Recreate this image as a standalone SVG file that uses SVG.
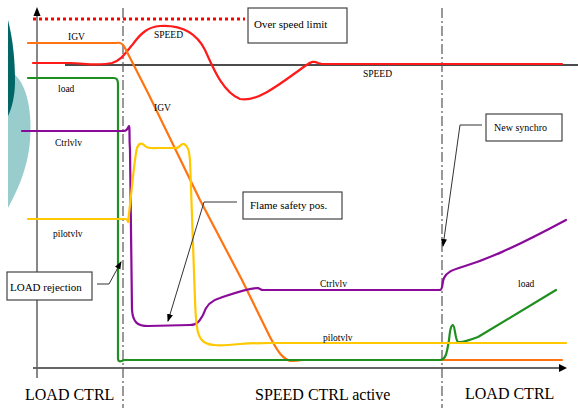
<svg xmlns="http://www.w3.org/2000/svg" width="578" height="408" viewBox="0 0 578 408">
<style>
.t{font-family:"Liberation Serif","Times New Roman",serif;fill:#000}
.s{font-size:9.5px}
.b{font-size:16px}
.c{fill:none;stroke-width:2.2;stroke-linejoin:round;stroke-linecap:round}
.box{fill:#fff;stroke:#444;stroke-width:1.2}
.ld{fill:none;stroke:#333;stroke-width:1}
.dd{stroke:#555;stroke-width:1.2;stroke-dasharray:10 3 2 3;fill:none}
</style>
<defs>
<marker id="ah" markerWidth="8" markerHeight="8" refX="7" refY="4" orient="auto" markerUnits="userSpaceOnUse">
<path d="M0,1 L8,4 L0,7 Z" fill="#000"/>
</marker>
</defs>
<rect width="578" height="408" fill="#fff"/>
<g id="decor">
<path d="M8,70 C30,80 32,120 30,140 C28,170 15,195 8,208 Z" fill="#99cccc"/>
<path d="M8,20 C13,40 15,60 15,82 C15,95 12,108 8,116 Z" fill="#006666"/>
</g>
<g id="axes">
<line x1="37" y1="14" x2="37" y2="378" stroke="#111" stroke-width="1"/>
<path d="M33.5,16 L37,7 L40.5,16 Z" fill="#000"/>
<line x1="33" y1="368" x2="560" y2="368" stroke="#666" stroke-width="2"/>
<path d="M559,364 L567,368 L559,372 Z" fill="#000"/>
<line x1="65" y1="65" x2="578" y2="65" stroke="#111" stroke-width="1.4"/>
<line class="dd" x1="123" y1="8" x2="123" y2="408"/>
<line class="dd" x1="442" y1="8" x2="442" y2="408"/>
<line x1="33" y1="19" x2="245" y2="19" stroke="#ff0000" stroke-width="3" stroke-dasharray="3 3"/>
</g>
<g id="connectors">
<path class="c" stroke="#ff1a1a" d="M33,63 L70,63 C90,64 100,66 112,63 C122,60 126,52 133,44 C141,33 148,27 160,26 C178,25 195,30 205,50 C212,65 222,92 240,99 C258,103 285,80 305,66 C312,61 314,61 318,63 L322,64 L562,64"/>
<path class="c" stroke="#ff7410" d="M28,43 L116,43 C121,42 123,44 125,48 L148,93 L200,200 L242,280 L270,337 C278,352 282,358 290,361 C295,361 298,360 305,360 L562,360"/>
<path class="c" stroke="#1f8f1f" d="M28,78 L114,78 C117,78 118,80 118,84 L118,358 C118,362 120,362 124,360 L440,360 C446,360 447,352 449,340 C450,330 451,325 453,325 C455,325 455,340 458,342 C462,343 470,340 478,337 L556,290"/>
<path class="c" stroke="#8a0a9a" d="M22,131 L124,131 C128,131 128,126 129,126 C130,128 129,135 130,150 L132,310 C133,323 138,326 148,326 L190,325 C198,325 200,320 203,315 C206,305 212,300 220,298 C235,293 248,288 258,288 L262,290 L440,290 C443,290 442,282 444,278 C447,272 452,270 462,267 C485,260 510,250 566,220"/>
<path class="c" stroke="#ffc800" d="M28,219 L125,219 C128,219 128,222 128,222 C131,200 134,160 137,148 C139,143 142,142 145,146 C148,149 152,148 158,148 L176,148 C180,148 181,143 184,144 C188,146 189,150 190,160 C191,190 193,240 195,300 C196,330 198,338 204,342 C210,346 220,346 240,344 C255,343 260,343 270,343 L566,343"/>
<path class="ld" d="M237,202 L204,202 L168,321" marker-end="url(#ah)"/>
<path class="ld" d="M482,125 L460,125 L443,246" marker-end="url(#ah)"/>
<path class="ld" d="M97,284 L109,284 L121,262" marker-end="url(#ah)"/>
</g>
<g id="labels">
<text class="t s" x="68" y="40">IGV</text>
<text class="t s" x="154" y="38">SPEED</text>
<text class="t s" x="154" y="111">IGV</text>
<text class="t s" x="363" y="77">SPEED</text>
<text class="t s" x="58" y="92">load</text>
<text class="t s" x="55" y="146">Ctrlvlv</text>
<text class="t s" x="53" y="237">pilotvlv</text>
<text class="t s" x="320" y="287">Ctrlvlv</text>
<text class="t s" x="323" y="341">pilotvlv</text>
<text class="t s" x="518" y="287">load</text>
</g>
<g id="box-overspeed">
<rect class="box" x="248" y="8" width="99" height="35"/>
<text class="t" x="254" y="28" font-size="11">Over speed limit</text>
</g>
<g id="box-flame">
<rect class="box" x="243" y="192" width="99" height="27"/>
<text class="t" x="250" y="209" font-size="11">Flame safety pos.</text>
</g>
<g id="box-synchro">
<rect class="box" x="486" y="114" width="76" height="27"/>
<text class="t" x="494" y="131" font-size="10">New synchro</text>
</g>
<g id="box-loadrej">
<rect class="box" x="7" y="272" width="85" height="28"/>
<text class="t" x="10" y="291" font-size="11">LOAD rejection</text>
</g>
<g id="phases">
<text class="t b" x="25" y="400">LOAD CTRL</text>
<text class="t b" x="255" y="400">SPEED CTRL active</text>
<text class="t b" x="465" y="399">LOAD CTRL</text>
</g>
</svg>
